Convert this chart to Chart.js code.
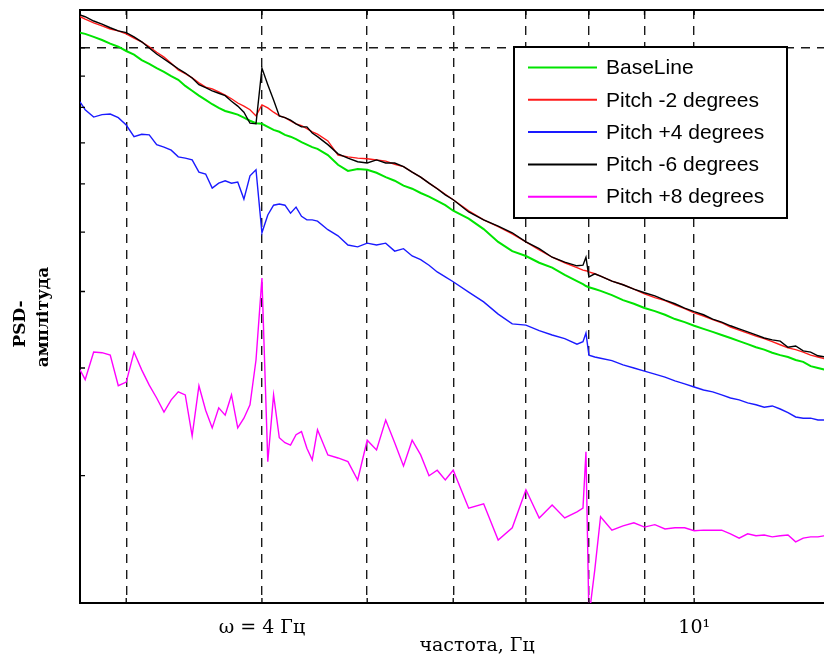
<!DOCTYPE html>
<html lang="uk">
<head>
<meta charset="utf-8">
<title>PSD-амплітуда</title>
<script src="https://cdn.jsdelivr.net/npm/chart.js@4.4.1/dist/chart.umd.min.js"></script>
<style>
  html, body { margin: 0; padding: 0; background: #fff; overflow: hidden; }
  #wrap { width: 880px; height: 657px; }
</style>
</head>
<body>
<div id="wrap"><canvas id="psd" width="880" height="657"></canvas></div>
<script>
// Frequency bins, Hz
const freqHz = [
  2.72, 2.75, 2.8, 2.85, 2.9, 2.95, 3, 3.05, 3.1, 3.15,
  3.2, 3.25, 3.3, 3.35, 3.4, 3.45, 3.5, 3.55, 3.6, 3.65,
  3.7, 3.75, 3.8, 3.85, 3.9, 3.95, 4, 4.05, 4.1, 4.15,
  4.2, 4.25, 4.3, 4.35, 4.4, 4.45, 4.5, 4.6, 4.7, 4.8,
  4.9, 5, 5.1, 5.2, 5.3, 5.4, 5.5, 5.6, 5.7, 5.8,
  5.9, 6, 6.2, 6.4, 6.6, 6.8, 7, 7.2, 7.4, 7.6,
  7.8, 7.9, 7.95, 8, 8.1, 8.2, 8.4, 8.6, 8.8, 9,
  9.2, 9.4, 9.6, 9.8, 10, 10.2, 10.4, 10.6, 10.8, 11,
  11.2, 11.4, 11.6, 11.8, 12, 12.2, 12.4, 12.6, 12.8, 13, 13.2
];

// PSD level, dB (10·lg relative to the reference decade)
const baseLine = [
  0.25, 0.23, 0.18, 0.13, 0.07, 0.02, -0.05, -0.11, -0.20, -0.26,
  -0.33, -0.39, -0.46, -0.52, -0.62, -0.70, -0.78, -0.85, -0.92, -0.98,
  -1.03, -1.06, -1.09, -1.14, -1.19, -1.23, -1.24, -1.29, -1.34, -1.37,
  -1.42, -1.45, -1.49, -1.54, -1.58, -1.62, -1.65, -1.75, -1.91, -2.01,
  -1.98, -1.99, -2.04, -2.11, -2.17, -2.25, -2.30, -2.37, -2.43, -2.50,
  -2.57, -2.66, -2.79, -2.96, -3.17, -3.32, -3.40, -3.51, -3.59, -3.71,
  -3.81, -3.86, -3.89, -3.91, -3.94, -3.97, -4.04, -4.12, -4.18, -4.25,
  -4.30, -4.36, -4.43, -4.48, -4.54, -4.59, -4.64, -4.69, -4.74, -4.79,
  -4.84, -4.89, -4.93, -4.98, -5.02, -5.05, -5.10, -5.13, -5.20, -5.23, -5.26
];
const pitchMinus2 = [
  0.51, 0.47, 0.41, 0.36, 0.31, 0.28, 0.23, 0.16, 0.10, 0.02,
  -0.07, -0.15, -0.25, -0.36, -0.42, -0.49, -0.57, -0.64, -0.67, -0.72,
  -0.77, -0.83, -0.90, -0.95, -1.01, -1.11, -0.93, -0.98, -1.05, -1.11,
  -1.14, -1.19, -1.24, -1.27, -1.32, -1.37, -1.41, -1.52, -1.75, -1.78,
  -1.80, -1.81, -1.83, -1.85, -1.90, -1.94, -2.03, -2.11, -2.21, -2.30,
  -2.39, -2.48, -2.66, -2.81, -2.92, -3.04, -3.17, -3.30, -3.42, -3.51,
  -3.59, -3.63, -3.64, -3.66, -3.69, -3.73, -3.81, -3.87, -3.94, -4.02,
  -4.08, -4.13, -4.20, -4.26, -4.33, -4.38, -4.44, -4.49, -4.56, -4.61,
  -4.66, -4.71, -4.75, -4.80, -4.85, -4.90, -4.93, -4.97, -5.02, -5.05, -5.08
];
const pitchPlus4 = [
  -0.88, -1.01, -1.13, -1.09, -1.08, -1.14, -1.26, -1.45, -1.41, -1.42,
  -1.58, -1.62, -1.67, -1.78, -1.80, -1.83, -2.03, -2.06, -2.29, -2.21,
  -2.17, -2.21, -2.19, -2.47, -2.09, -1.99, -3.02, -2.73, -2.57, -2.55,
  -2.57, -2.70, -2.60, -2.75, -2.81, -2.81, -2.83, -2.97, -3.07, -3.22,
  -3.25, -3.19, -3.22, -3.19, -3.32, -3.28, -3.40, -3.46, -3.55, -3.66,
  -3.74, -3.82, -3.99, -4.15, -4.35, -4.51, -4.53, -4.62, -4.69, -4.75,
  -4.84, -4.80, -4.66, -5.02, -5.05, -5.07, -5.11, -5.18, -5.23, -5.28,
  -5.33, -5.38, -5.44, -5.49, -5.54, -5.59, -5.62, -5.67, -5.72, -5.75,
  -5.80, -5.83, -5.87, -5.85, -5.90, -5.96, -6.03, -6.05, -6.05, -6.08, -6.08
];
const pitchMinus6 = [
  0.54, 0.51, 0.44, 0.39, 0.33, 0.28, 0.25, 0.18, 0.10, 0.00,
  -0.10, -0.18, -0.26, -0.34, -0.41, -0.49, -0.60, -0.65, -0.70, -0.74,
  -0.78, -0.87, -0.95, -1.05, -1.23, -1.24, -0.33, -0.60, -0.85, -1.11,
  -1.14, -1.18, -1.24, -1.29, -1.29, -1.39, -1.45, -1.58, -1.73, -1.80,
  -1.86, -1.88, -1.83, -1.88, -1.88, -1.94, -2.03, -2.11, -2.21, -2.30,
  -2.40, -2.48, -2.68, -2.81, -2.91, -3.02, -3.17, -3.28, -3.42, -3.50,
  -3.56, -3.55, -3.42, -3.74, -3.69, -3.73, -3.81, -3.87, -3.94, -4.00,
  -4.05, -4.12, -4.18, -4.25, -4.31, -4.36, -4.43, -4.48, -4.54, -4.59,
  -4.64, -4.69, -4.74, -4.77, -4.79, -4.89, -4.87, -4.95, -4.97, -5.03, -5.05
];
const pitchPlus8 = [
  -5.26, -5.42, -4.97, -4.98, -5.02, -5.52, -5.46, -4.97, -5.26, -5.51,
  -5.72, -5.95, -5.75, -5.62, -5.67, -6.34, -5.52, -5.92, -6.21, -5.88,
  -6.00, -5.67, -6.21, -6.05, -5.83, -5.10, -3.76, -6.76, -5.67, -6.37,
  -6.45, -6.49, -6.32, -6.27, -6.54, -6.73, -6.24, -6.65, -6.70, -6.76,
  -7.06, -6.41, -6.57, -6.08, -6.45, -6.83, -6.41, -6.65, -6.99, -6.90,
  -7.06, -6.90, -7.52, -7.45, -8.04, -7.84, -7.22, -7.68, -7.47, -7.68,
  -7.58, -7.52, -6.60, -9.30, -8.53, -7.66, -7.88, -7.81, -7.76, -7.83,
  -7.79, -7.86, -7.84, -7.84, -7.89, -7.88, -7.88, -7.88, -7.94, -8.01,
  -7.94, -7.97, -7.96, -7.99, -7.97, -7.96, -8.07, -8.01, -7.99, -7.99, -7.97
];

const seriesNames = ['BaseLine', 'Pitch -2 degrees', 'Pitch +4 degrees', 'Pitch -6 degrees', 'Pitch +8 degrees'];
const seriesValues = [baseLine, pitchMinus2, pitchPlus4, pitchMinus6, pitchPlus8];

// Axis marks: dashed frequency grid, log-decade ticks on the level axis
const xGridHz = [3, 4, 5, 6, 7, 8, 9, 10];
const yTickDb = [-6.99, -5.23, -3.98, -3.01, -2.22, -1.55, -0.97, -0.46, 0];
const xTickText = { 4: 'ω = 4 Гц', 10: '10¹' };
const yTitleLines = ['PSD-', 'амплітуда'];
const xTitle = 'частота, Гц';

const seriesColors = ['#00e400', '#ff1a1a', '#1a1aff', '#000000', '#ff00ff'];

const datasets = seriesValues.map((vals, i) => ({
  label: seriesNames[i],
  data: freqHz.map((f, j) => ({ x: f, y: vals[j] })),
  borderColor: seriesColors[i],
  backgroundColor: seriesColors[i],
  borderWidth: i === 0 ? 2 : 1.4,
  pointRadius: 0,
  tension: 0,
  fill: false,
  order: seriesValues.length - i
}));

// inward tick marks and the top frame line
const axesDecor = {
  id: 'axesDecor',
  afterDatasetsDraw(chart) {
    const { ctx, chartArea: a, scales: { x, y } } = chart;
    ctx.save();
    ctx.strokeStyle = '#000';
    ctx.lineWidth = 1.3;
    ctx.beginPath();
    xGridHz.forEach(v => {
      const px = x.getPixelForValue(v);
      ctx.moveTo(px, a.bottom); ctx.lineTo(px, a.bottom - 5);
      ctx.moveTo(px, a.top); ctx.lineTo(px, a.top + 5);
    });
    yTickDb.forEach(v => {
      const py = y.getPixelForValue(v);
      ctx.moveTo(a.left, py); ctx.lineTo(a.left + 5, py);
    });
    ctx.stroke();
    ctx.lineWidth = 2;
    ctx.beginPath();
    ctx.moveTo(a.left - 1, a.top);
    ctx.lineTo(a.right, a.top);
    ctx.stroke();
    ctx.restore();
  }
};

// boxed legend in the upper right of the plot
const boxLegend = {
  id: 'boxLegend',
  afterDatasetsDraw(chart) {
    const ctx = chart.ctx;
    const box = { left: 514, top: 47, width: 273, height: 171 };
    const rowY0 = 67.5, rowStep = 32.3;
    ctx.save();
    ctx.fillStyle = '#fff';
    ctx.fillRect(box.left, box.top, box.width, box.height);
    ctx.strokeStyle = '#000';
    ctx.lineWidth = 2;
    ctx.strokeRect(box.left, box.top, box.width, box.height);
    ctx.font = '21px "Liberation Sans", Arial, sans-serif';
    ctx.textBaseline = 'middle';
    ctx.textAlign = 'left';
    chart.data.datasets.forEach((ds, i) => {
      const yy = rowY0 + i * rowStep;
      ctx.strokeStyle = ds.borderColor;
      ctx.lineWidth = 2;
      ctx.beginPath();
      ctx.moveTo(528, yy);
      ctx.lineTo(597, yy);
      ctx.stroke();
      ctx.fillStyle = '#000';
      ctx.fillText(ds.label, 606, yy + 1);
    });
    ctx.restore();
  }
};

// two-line rotated level-axis caption
const yCaption = {
  id: 'yCaption',
  afterDraw(chart) {
    const ctx = chart.ctx;
    const spots = [[21, 324], [44, 317]];
    ctx.save();
    ctx.fillStyle = '#000';
    ctx.font = 'bold 17px "DejaVu Serif", serif';
    ctx.textAlign = 'center';
    ctx.textBaseline = 'middle';
    yTitleLines.forEach((t, i) => {
      ctx.save();
      ctx.translate(spots[i][0], spots[i][1]);
      ctx.rotate(-Math.PI / 2);
      ctx.fillText(t, 0, 0);
      ctx.restore();
    });
    ctx.restore();
  }
};

new Chart(document.getElementById('psd'), {
  type: 'line',
  data: { datasets },
  options: {
    responsive: false,
    animation: false,
    events: [],
    layout: { padding: { top: 10, right: 6, bottom: 0, left: 0 } },
    plugins: { legend: { display: false }, tooltip: { enabled: false } },
    scales: {
      x: {
        type: 'logarithmic',
        min: 2.72,
        max: 14.64,
        afterBuildTicks: s => { s.ticks = xGridHz.map(v => ({ value: v })); },
        afterFit: s => { s.height = 54; },
        grid: { color: '#1a1a1a', lineWidth: 1.4, drawTicks: false },
        border: { display: true, color: '#000', width: 2, dash: [9, 7] },
        ticks: {
          autoSkip: false,
          maxRotation: 0,
          padding: 14,
          color: '#000',
          font: { family: '"DejaVu Serif", serif', size: 19 },
          callback: v => xTickText[v] || ''
        },
        title: {
          display: true,
          text: xTitle,
          color: '#000',
          font: { family: '"DejaVu Serif", serif', size: 19, lineHeight: 1 },
          padding: { top: 0, bottom: 1 }
        }
      },
      y: {
        type: 'linear',
        min: -9.07,
        max: 0.62,
        afterBuildTicks: s => { s.ticks = yTickDb.map(v => ({ value: v })); },
        afterFit: s => { s.width = 80; },
        grid: {
          drawTicks: false,
          lineWidth: 1.4,
          color: c => (c.tick && c.tick.value === 0 ? '#1a1a1a' : 'rgba(0,0,0,0)')
        },
        border: { display: true, color: '#000', width: 2, dash: [9, 7] },
        ticks: { display: false }
      }
    }
  },
  plugins: [axesDecor, boxLegend, yCaption]
});
</script>
</body>
</html>
